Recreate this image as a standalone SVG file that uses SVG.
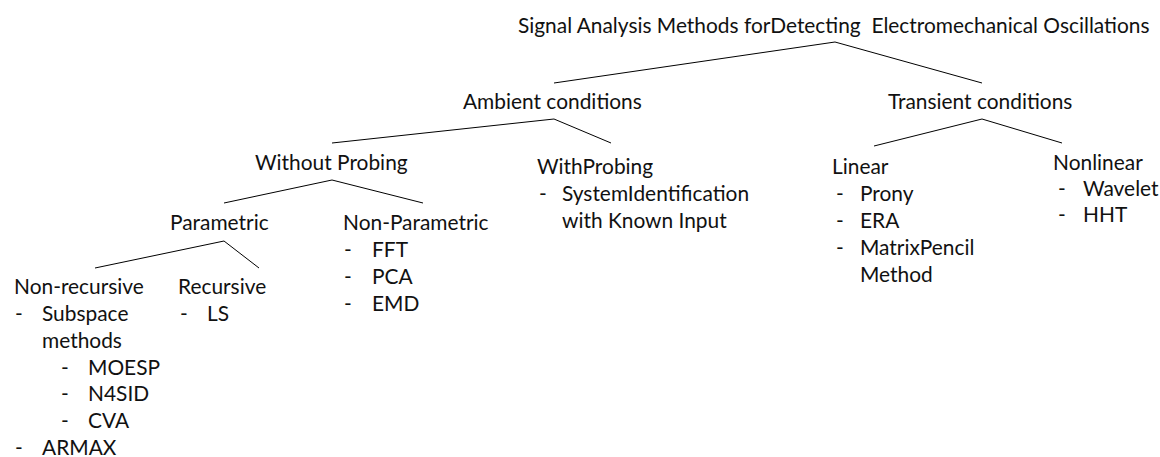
<svg xmlns="http://www.w3.org/2000/svg" width="1160" height="457" viewBox="0 0 1160 457">
<style>
text{font-family:Lato,"Carlito","Liberation Sans",sans-serif;font-size:20.9px;fill:#111;white-space:pre}
.c line{stroke:#000;stroke-width:1}
</style>
<rect width="1160" height="457" fill="#fff"/>
<g class="c" id="connectors">
<line x1="554" y1="83" x2="835" y2="42"/><line x1="835" y1="42" x2="982" y2="83"/>
<line x1="332" y1="143" x2="554" y2="119"/><line x1="554" y1="119" x2="611" y2="143"/>
<line x1="874" y1="146" x2="982" y2="119"/><line x1="982" y1="119" x2="1062" y2="143"/>
<line x1="224" y1="203" x2="332" y2="180"/><line x1="332" y1="180" x2="423" y2="203"/>
<line x1="95" y1="268" x2="224" y2="241"/><line x1="224" y1="241" x2="259" y2="268"/>
</g>
<g id="root"><text x="518" y="33" xml:space="preserve">Signal Analysis Methods forDetecting  Electromechanical Oscillations</text></g>
<g id="ambient"><text x="463" y="109">Ambient conditions</text></g>
<g id="transient"><text x="888" y="109">Transient conditions</text></g>
<g id="without"><text x="255" y="170">Without Probing</text></g>
<g id="with"><text x="537" y="174">WithProbing</text>
<text x="539" y="201">-</text><text x="562" y="201">SystemIdentification</text>
<text x="562" y="228">with Known Input</text></g>
<g id="linear"><text x="832" y="174">Linear</text>
<text x="836" y="201">-</text><text x="860" y="201">Prony</text>
<text x="836" y="228">-</text><text x="860" y="228">ERA</text>
<text x="836" y="255">-</text><text x="860" y="255">MatrixPencil</text>
<text x="860" y="282">Method</text></g>
<g id="nonlinear"><text x="1053" y="170">Nonlinear</text>
<text x="1058" y="196">-</text><text x="1083" y="196">Wavelet</text>
<text x="1058" y="222">-</text><text x="1083" y="222">HHT</text></g>
<g id="parametric"><text x="170" y="230">Parametric</text></g>
<g id="nonparametric"><text x="343" y="230">Non-Parametric</text>
<text x="344" y="257">-</text><text x="372" y="257">FFT</text>
<text x="344" y="284">-</text><text x="372" y="284">PCA</text>
<text x="344" y="311">-</text><text x="372" y="311">EMD</text></g>
<g id="nonrecursive"><text x="14" y="293.5">Non-recursive</text>
<text x="15" y="320.5">-</text><text x="42" y="320.5">Subspace</text>
<text x="42" y="347.5">methods</text>
<text x="61" y="374.5">-</text><text x="88" y="374.5">MOESP</text>
<text x="61" y="401">-</text><text x="88" y="401">N4SID</text>
<text x="61" y="428">-</text><text x="88" y="428">CVA</text>
<text x="15" y="455">-</text><text x="42" y="455">ARMAX</text></g>
<g id="recursive"><text x="178" y="293.5">Recursive</text>
<text x="180" y="320.5">-</text><text x="207" y="320.5">LS</text></g>
</svg>
